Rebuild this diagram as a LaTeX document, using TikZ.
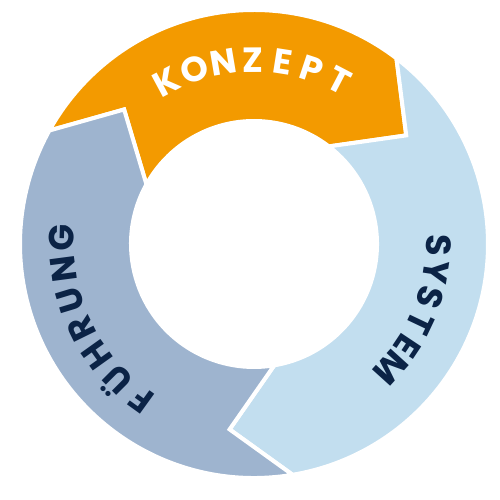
\documentclass[tikz,border=0pt]{standalone}
\usepackage{fontspec}
\IfFontExistsTF{Poppins Bold}{\newfontfamily\labfont{Poppins Bold}}{%
    \newfontfamily\labfont{Poppins}[FakeBold=2.5]}
\definecolor{orangec}{HTML}{F39A00}
\definecolor{fuehrc}{HTML}{9EB4CF}
\definecolor{sysc}{HTML}{C2DEEF}
\definecolor{navyc}{HTML}{0B2346}
\tikzset{
  seg/.style={draw=white, line width=4pt, line join=miter},
  letter/.style={inner sep=0pt, anchor=base, font=\labfont, scale=3.5},
}
\newcommand{\ringseg}[3]{% color, start angle, end angle
  \filldraw[seg, fill=#1] (#2:234) arc[start angle=#2, end angle=#3, radius=234]
    -- ({#3-17}:187) -- (#3:123) arc[start angle=#3, end angle=#2, radius=123]
    -- ({#2-17}:187) -- cycle;}
\begin{document}
\begin{tikzpicture}[x=1pt,y=1pt]
\useasboundingbox (0,0) rectangle (500,500);
\begin{scope}[shift={(254,256)}]
  \coordinate (c) at (0,0);
  \ringseg{orangec}{151}{52.5}
  \ringseg{sysc}{52.5}{-80.5}
  \ringseg{fuehrc}{279.5}{151}
  \foreach \l/\a [count=\i] in {K/118.2,O/108.9,N/99.6,Z/90.3,E/81.0,P/71.7,T/62.4}
    \node[letter, text=white, rotate=\a-90] (k\i) at (\a:172) {\l};
  \foreach \l/\a [count=\i] in {S/-0.3,Y/-8.66,S/-17.0,T/-25.4,E/-33.7,M/-42.1}
    \node[letter, text=navyc, rotate=\a-90] (s\i) at (\a:172) {\l};
  \foreach \l/\a [count=\i] in {F/234.2,Ü/224.9,H/215.5,R/206.2,U/196.9,N/187.5,G/178.2}
    \node[letter, text=navyc, rotate=\a-90] (f\i) at (\a:180) {\l};
\end{scope}
\end{tikzpicture}
\end{document}
